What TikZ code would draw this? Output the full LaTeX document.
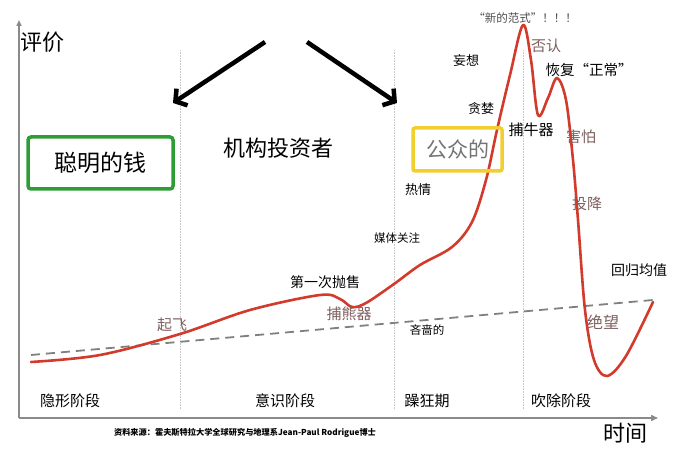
\documentclass[tikz,border=0pt]{standalone}
\usepackage{fontspec}
\setmainfont{Noto Sans CJK SC}
\usetikzlibrary{arrows.meta}
\definecolor{curvered}{HTML}{D23B2B}
\definecolor{emot}{HTML}{7E5F5F}
\definecolor{boxgreen}{HTML}{2E9E34}
\definecolor{boxyellow}{HTML}{F2CF2E}
\definecolor{axisgray}{HTML}{8A8A8A}
\tikzset{
  lbl/.style={inner sep=0pt, font=\fontsize{13}{13}\selectfont},
  emo/.style={inner sep=0pt, text=emot, font=\fontsize{15}{15}\selectfont},
  phase/.style={inner sep=0pt, font=\fontsize{15}{15}\selectfont},
  bigarrow/.style={line width=4.5pt, -{Straight Barb[length=8pt,width=20pt,line width=4.5pt]}},
  divider/.style={densely dotted, black!22, line width=0.6pt},
}
\begin{document}
\begin{tikzpicture}[x=1pt,y=-1pt]
\useasboundingbox (0,0) rectangle (693,462);
% dividers
\draw[divider] (180,50) -- (180,410);
\draw[divider] (394,50) -- (394,410);
\draw[divider] (523,50) -- (523,410);
% axes
\coordinate (o) at (19,418);
\coordinate (ytop) at (19,20);
\coordinate (xend) at (658,418);
\draw[axisgray, line width=1.5pt, -{Triangle[length=6pt,width=5pt]}] (o) -- (ytop);
\draw[axisgray, line width=1.5pt, -{Triangle[length=7pt,width=6pt]}] (o) -- (xend);
% mean line
\coordinate (m1) at (31,355);
\coordinate (m2) at (653,300);
\draw[gray, dashed, dash pattern=on 9pt off 6pt, line width=1.8pt] (m1) -- (m2);
% curve
\draw[curvered, line width=2.6pt, line cap=round, line join=round]
  plot[smooth, tension=0.55] coordinates {(31,362) (100,355) (180,334) (250,310) (320,295) (340,299) (352,307) (366,303) (394,284) (420,265) (452,247) (472,222) (486,180) (497,130) (510,75) (523,25) (531,60) (538,115) (548,98) (557,78) (566,100) (573,160) (578,220) (585,310) (594,360) (607,376) (626,356) (653,302)};
% labels
\node[inner sep=0pt, font=\fontsize{22}{22}\selectfont] (ylab) at (42,42) {评价};
\node[inner sep=0pt, font=\fontsize{22}{22}\selectfont] (xlab) at (625,433) {时间};
\node[draw=boxgreen, line width=3.5pt, rounded corners=3pt, minimum width=145pt, minimum height=52pt, inner sep=0pt, font=\fontsize{23}{23}\selectfont] (smart) at (100.5,163) {聪明的钱};
\node[inner sep=0pt, font=\fontsize{22}{22}\selectfont] (inst) at (278,148) {机构投资者};
\node[draw=boxyellow, line width=3.5pt, rounded corners=2pt, minimum width=89pt, minimum height=43pt, inner sep=0pt, text=black!55, font=\fontsize{21}{21}\selectfont] (public) at (457.5,149.5) {公众的};
\coordinate (a1s) at (265,42);
\coordinate (a1e) at (173,103);
\coordinate (a2s) at (307,42);
\coordinate (a2e) at (397,103);
\draw[bigarrow] (a1s) -- (a1e);
\draw[bigarrow] (a2s) -- (a2e);
\node[inner sep=0pt, text=black!70, font=\fontsize{11.5}{11.5}\selectfont] (para) at (525,18) {“新的范式”！！！};
\node[emo] (deny) at (546,46) {否认};
\node[lbl, font=\fontsize{14.5}{14.5}\selectfont] (norm) at (589,70) {恢复“正常”};
\node[lbl] (delu) at (466,61) {妄想};
\node[lbl] (greed) at (481,109) {贪婪};
\node[lbl, font=\fontsize{15}{15}\selectfont] (bull) at (531,130) {捕牛器};
\node[emo] (fear) at (581,137) {害怕};
\node[lbl] (enth) at (418,190) {热情};
\node[emo] (capit) at (587,204) {投降};
\node[lbl, font=\fontsize{11.5}{11.5}\selectfont] (media) at (397,238) {媒体关注};
\node[lbl, font=\fontsize{14}{14}\selectfont] (revert) at (639,270) {回归均值};
\node[emo, font=\fontsize{16}{16}\selectfont] (desp) at (603,322) {绝望};
\node[lbl, font=\fontsize{11.5}{11.5}\selectfont] (stingy) at (427,330) {吝啬的};
\node[emo] (bear) at (349,314) {捕熊器};
\node[lbl, font=\fontsize{14}{14}\selectfont] (sell) at (325,282) {第一次抛售};
\node[emo] (take) at (172,325) {起飞};
\node[phase] (p1) at (70,401) {隐形阶段};
\node[phase] (p2) at (285,401) {意识阶段};
\node[phase] (p3) at (427,401) {躁狂期};
\node[phase] (p4) at (561,401) {吹除阶段};
\node[inner sep=0pt, font=\fontsize{8.2}{8.2}\selectfont\bfseries] (src) at (245,433) {资料来源：霍夫斯特拉大学全球研究与地理系Jean-Paul Rodrigue博士};
\end{tikzpicture}
\end{document}
